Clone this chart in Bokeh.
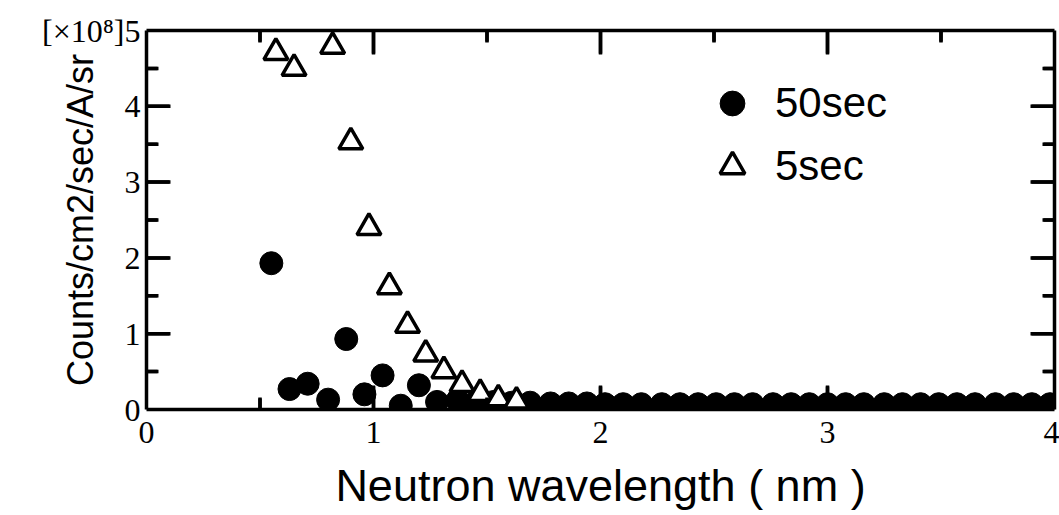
from bokeh.plotting import figure
from bokeh.models import (Range1d, LinearAxis, SingleIntervalTicker, FixedTicker,
                          Legend, LegendItem, ColumnDataSource)
from bokeh.embed import file_html
from bokeh.resources import INLINE

# ---- data ----
x_50sec = [0.55, 0.63, 0.71, 0.80, 0.88, 0.96, 1.04, 1.12, 1.20, 1.28,
           1.37, 1.45, 1.53, 1.61, 1.69, 1.78, 1.86, 1.94,
           2.02, 2.10, 2.18, 2.27, 2.35, 2.43, 2.51, 2.59,
           2.67, 2.76, 2.84, 2.92, 3.00, 3.08, 3.16, 3.25,
           3.33, 3.41, 3.49, 3.57, 3.65, 3.74, 3.82, 3.90, 3.98]
y_50sec = [1.93, 0.27, 0.34, 0.13, 0.93, 0.20, 0.45, 0.05, 0.32, 0.10,
           0.12, 0.10, 0.10, 0.09, 0.09, 0.08, 0.08, 0.08,
           0.07, 0.07, 0.07, 0.07, 0.07, 0.07, 0.07, 0.07,
           0.07, 0.07, 0.07, 0.07, 0.07, 0.07, 0.07, 0.07,
           0.07, 0.07, 0.07, 0.07, 0.07, 0.07, 0.07, 0.07, 0.07]
x_5sec = [0.57, 0.65, 0.82, 0.90, 0.98, 1.07, 1.15, 1.23, 1.31, 1.39, 1.47, 1.55, 1.63]
y_5sec = [4.71, 4.50, 4.79, 3.53, 2.40, 1.62, 1.11, 0.73, 0.51, 0.33, 0.21, 0.14, 0.11]
series_names = ["50sec", "5sec"]
x_title = "Neutron wavelength ( nm )"
y_title = "Counts/cm2/sec/A/sr"
scale_note = "[\u00d710\u2078]"
x_limits = [0, 4]
y_limits = [0, 5]
x_major = [1, 2, 3]
x_minor = [0.5, 1.5, 2.5, 3.5]
y_major = [1, 2, 3, 4]
y_minor = [0.5, 1.5, 2.5, 3.5, 4.5]

SERIF = "Liberation Serif"
SANS = "Liberation Sans"
LW = 3.5
FRAME_W, FRAME_H = 908, 379
PX_X = FRAME_W / (x_limits[1] - x_limits[0])   # pixels per x unit
PX_Y = FRAME_H / (y_limits[1] - y_limits[0])   # pixels per y unit
MAJ, MIN = 24, 12                              # tick lengths in pixels

p = figure(width=1059, height=515, output_backend="svg", toolbar_location=None,
           x_range=Range1d(*x_limits), y_range=Range1d(*y_limits),
           x_axis_location=None, y_axis_location=None,
           min_border_left=146, min_border_right=5, min_border_top=30,
           min_border_bottom=106)
p.grid.visible = False
p.outline_line_color = None
p.background_fill_color = "white"
p.border_fill_color = "white"


def style_axis(ax):
    ax.axis_line_width = LW
    ax.axis_line_color = "black"
    ax.major_tick_line_color = None
    ax.minor_tick_line_color = None
    ax.major_tick_in = 0
    ax.major_tick_out = 0
    ax.minor_tick_in = 0
    ax.minor_tick_out = 0
    ax.major_label_text_font = SERIF
    ax.major_label_text_font_size = "32px"
    ax.major_label_text_color = "black"


xb = LinearAxis(ticker=SingleIntervalTicker(interval=1, num_minor_ticks=2))
style_axis(xb)
xb.major_label_standoff = 12
xb.axis_label = x_title
xb.axis_label_text_font = SANS
xb.axis_label_text_font_style = "normal"
xb.axis_label_text_font_size = "45px"
xb.axis_label_text_color = "black"
xb.axis_label_standoff = 14
p.add_layout(xb, "below")

yl = LinearAxis(ticker=SingleIntervalTicker(interval=1, num_minor_ticks=2))
style_axis(yl)
yl.major_label_standoff = 6
yl.major_label_overrides = {y_limits[1]: scale_note + str(y_limits[1])}
yl.axis_label = y_title
yl.axis_label_text_font = SANS
yl.axis_label_text_font_style = "normal"
yl.axis_label_text_font_size = "36px"
yl.axis_label_text_color = "black"
yl.axis_label_standoff = -62
p.add_layout(yl, "left")

# top and right frame lines (no labels)
xt = LinearAxis(ticker=FixedTicker(ticks=[]))
style_axis(xt)
p.add_layout(xt, "above")
yr = LinearAxis(ticker=FixedTicker(ticks=[]))
style_axis(yr)
p.add_layout(yr, "right")

src50 = ColumnDataSource(dict(x=x_50sec, y=y_50sec))
src5 = ColumnDataSource(dict(x=x_5sec, y=y_5sec))
r50 = p.scatter("x", "y", source=src50, marker="circle", size=23,
                fill_color="black", line_color="black", line_width=1)
r5 = p.scatter("x", "y", source=src5, marker="triangle", size=24,
               fill_color="white", line_color="black", line_width=LW)

# inward tick marks on all four sides, kept just inside the frame
seg = dict(line_color="black", line_width=LW, line_cap="butt")
dash = dict(marker="dash", line_color="black", line_width=LW)
gap_x, gap_y = 1.0 / PX_X, 1.0 / PX_Y
for edge, sign in ((x_limits[0], 1), (x_limits[1], -1)):
    for ticks, L in ((y_major, MAJ), (y_minor, MIN)):
        n = len(ticks)
        p.segment(x0=[edge + sign * gap_x] * n, y0=ticks,
                  x1=[edge + sign * L / PX_X] * n, y1=ticks, **seg)
        p.scatter(x=[edge + sign * (L / 2) / PX_X] * n, y=ticks,
                  size=L - 2, angle=0, **dash)
for edge, sign in ((y_limits[0], 1), (y_limits[1], -1)):
    for ticks, L in ((x_major, MAJ), (x_minor, MIN)):
        n = len(ticks)
        p.segment(x0=ticks, y0=[edge + sign * gap_y] * n,
                  x1=ticks, y1=[edge + sign * L / PX_Y] * n, **seg)
        p.scatter(x=ticks, y=[edge + sign * (L / 2) / PX_Y] * n,
                  size=L - 2, angle=1.5707963, **dash)

legend = Legend(items=[LegendItem(label=series_names[0], renderers=[r50]),
                       LegendItem(label=series_names[1], renderers=[r5])],
                location=(555, 212), glyph_width=62, glyph_height=62,
                spacing=1, padding=0, margin=0, label_standoff=12,
                label_height=62,
                border_line_color=None, background_fill_alpha=0,
                label_text_font=SANS, label_text_font_size="42px",
                label_text_color="black")
p.add_layout(legend)

open("out.html", "w").write(file_html(p, INLINE))
